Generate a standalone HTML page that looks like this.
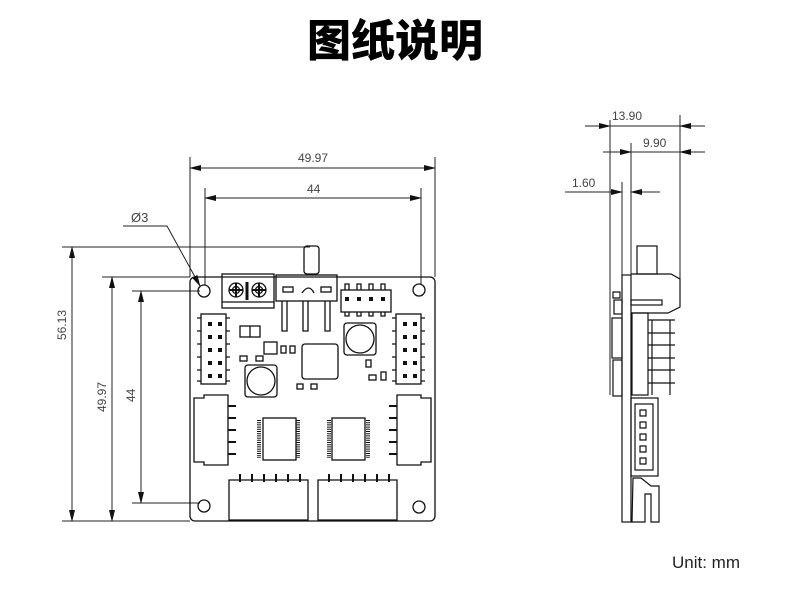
<!DOCTYPE html>
<html><head><meta charset="utf-8"><style>
body{margin:0;background:#fff;width:790px;height:603px;overflow:hidden}
svg{display:block}
text{font-family:"Liberation Sans",sans-serif;fill:#444}
</style></head><body>
<svg width="790" height="603" viewBox="0 0 790 603" xmlns="http://www.w3.org/2000/svg">
<defs><marker id="a" markerWidth="12" markerHeight="6" refX="11" refY="3" orient="auto" markerUnits="userSpaceOnUse"><path d="M0,0 L12,3 L0,6z" fill="#111"/></marker></defs>
<text x="395" y="56" text-anchor="middle" style="font-family:'Liberation Sans','Noto Sans CJK SC',sans-serif;font-weight:900;font-size:44px;fill:#000">图纸说明</text>
<text x="672" y="568" style="font-size:17px;fill:#222">Unit:  mm</text>

<g stroke="#222" stroke-width="1" fill="none">
<line x1="190" y1="157" x2="190" y2="277"/><line x1="435" y1="157" x2="435" y2="277"/>
<line x1="205" y1="188" x2="205" y2="285"/><line x1="421" y1="188" x2="421" y2="285"/>
<line x1="312" y1="168" x2="190" y2="168" marker-end="url(#a)"/><line x1="312" y1="168" x2="435" y2="168" marker-end="url(#a)"/>
<line x1="312" y1="198" x2="205" y2="198" marker-end="url(#a)"/><line x1="312" y1="198" x2="421" y2="198" marker-end="url(#a)"/>
<line x1="62" y1="247" x2="310" y2="247"/><line x1="102" y1="277" x2="190" y2="277"/><line x1="132" y1="291" x2="200" y2="291"/>
<line x1="62" y1="521" x2="190" y2="521"/><line x1="132" y1="503" x2="200" y2="503"/>
<line x1="72" y1="385" x2="72" y2="247" marker-end="url(#a)"/><line x1="72" y1="385" x2="72" y2="521" marker-end="url(#a)"/>
<line x1="112" y1="400" x2="112" y2="277" marker-end="url(#a)"/><line x1="112" y1="400" x2="112" y2="521" marker-end="url(#a)"/>
<line x1="141" y1="400" x2="141" y2="291" marker-end="url(#a)"/><line x1="141" y1="400" x2="141" y2="503" marker-end="url(#a)"/>
<polyline points="123,226 167,226 200,286" marker-end="url(#a)"/>
</g>
<text x="298" y="162" style="font-size:12px">49.97</text>
<text x="307" y="193" style="font-size:12px">44</text>
<text x="131" y="222" style="font-size:13px">Ø3</text>
<text transform="translate(66,340) rotate(-90)" style="font-size:12px">56.13</text>
<text transform="translate(106,412) rotate(-90)" style="font-size:12px">49.97</text>
<text transform="translate(135,402) rotate(-90)" style="font-size:12px">44</text>

<g stroke="#111" stroke-width="1.3" fill="none">
<rect x="190" y="277" width="245" height="244" rx="5"/>
<circle cx="204" cy="291" r="6"/><circle cx="419" cy="290" r="6"/><circle cx="204" cy="506" r="6"/><circle cx="419" cy="507" r="6"/>
<rect x="222" y="274" width="52" height="34"/><line x1="222" y1="302" x2="274" y2="302"/>
<circle cx="236" cy="290" r="7"/><circle cx="259" cy="290" r="7"/>
<circle cx="236" cy="290" r="3.5"/><circle cx="259" cy="290" r="3.5"/>
<path d="M229,290h14M236,283v14M252,290h14M259,283v14" stroke-width="2"/>
<line x1="247" y1="282" x2="247" y2="300" stroke-width="3"/>
<rect x="304" y="246" width="15" height="28" rx="3"/>
<rect x="276" y="275" width="61" height="26"/>
<rect x="283" y="287" width="10" height="5"/><rect x="321" y="287" width="10" height="5"/>
<path d="M302,293 q7,-10 12,0"/>
<path d="M282,301 v30 h5 v-30 M303,301 v30 h5 v-30 M325,301 v30 h5 v-30"/>
<rect x="341" y="290" width="50" height="22"/>
<path d="M345,290v-6h4v6M357,290v-6h4v6M369,290v-6h4v6M381,290v-6h4v6M345,312v4h4v-4M357,312v4h4v-4M369,312v4h4v-4M381,312v4h4v-4"/>
<rect x="201" y="314" width="25" height="70"/><rect x="396" y="314" width="25" height="70"/>
<path d="M201,318h-4M201,331h-4M201,344h-4M201,357h-4M201,370h-4M201,381h-4M226,318h4M226,331h4M226,344h4M226,357h4M226,370h4M226,381h4"/>
<path d="M396,318h-4M396,331h-4M396,344h-4M396,357h-4M396,370h-4M396,381h-4M421,318h4M421,331h4M421,344h4M421,357h4M421,370h4M421,381h4"/>
<rect x="240" y="326" width="20" height="11"/><line x1="250" y1="326" x2="250" y2="337"/>
<circle cx="360" cy="339" r="14"/><rect x="344" y="323" width="32" height="32" rx="3"/>
<circle cx="261" cy="381" r="14"/><rect x="245" y="365" width="32" height="32" rx="3"/>
<rect x="302" y="344" width="36" height="35" rx="3"/>
<rect x="264" y="342" width="13" height="12"/>
<rect x="281" y="346" width="5" height="7"/><rect x="290" y="346" width="5" height="7"/>
<rect x="240" y="356" width="7" height="5"/><rect x="256" y="356" width="7" height="5"/>
<rect x="297" y="384" width="6" height="5"/><rect x="311" y="384" width="6" height="5"/>
<rect x="366" y="360" width="5" height="7"/><rect x="369" y="375" width="7" height="5"/><rect x="381" y="372" width="5" height="8"/>
<rect x="263" y="418" width="33" height="42"/><rect x="332" y="418" width="33" height="42"/>
<path d="M194,398 h10 v-3 h24 v70 h-24 v-3 h-10 z"/>
<path d="M431,398 h-10 v-3 h-24 v70 h24 v-3 h10 z"/>
<path d="M229,480 h79 v40 h-79 z"/><path d="M318,480 h79 v40 h-79 z"/>
</g>
<g fill="#111">
<rect x="208" y="322" width="4" height="4"/><rect x="218" y="322" width="4" height="4"/><rect x="208" y="335" width="4" height="4"/><rect x="218" y="335" width="4" height="4"/><rect x="208" y="348" width="4" height="4"/><rect x="218" y="348" width="4" height="4"/><rect x="208" y="361" width="4" height="4"/><rect x="218" y="361" width="4" height="4"/><rect x="208" y="374" width="4" height="4"/><rect x="218" y="374" width="4" height="4"/>
<rect x="403" y="322" width="4" height="4"/><rect x="413" y="322" width="4" height="4"/><rect x="403" y="335" width="4" height="4"/><rect x="413" y="335" width="4" height="4"/><rect x="403" y="348" width="4" height="4"/><rect x="413" y="348" width="4" height="4"/><rect x="403" y="361" width="4" height="4"/><rect x="413" y="361" width="4" height="4"/><rect x="403" y="374" width="4" height="4"/><rect x="413" y="374" width="4" height="4"/>
<rect x="345" y="297" width="4" height="4"/><rect x="357" y="297" width="4" height="4"/><rect x="369" y="297" width="4" height="4"/><rect x="381" y="297" width="4" height="4"/>
</g>
<g stroke="#111" stroke-width="2">
<path d="M259,420v38M298,420v38M329,420v38M368,420v38" stroke-dasharray="1,1.2" stroke-width="4"/>
<path d="M228,406h8M228,418h8M228,430h8M228,442h8M228,454h8"/>
<path d="M389,406h8M389,418h8M389,430h8M389,442h8M389,454h8"/>
<path d="M240,482v-8M252,482v-8M264,482v-8M276,482v-8M288,482v-8M300,482v-8M329,482v-8M341,482v-8M353,482v-8M365,482v-8M377,482v-8M389,482v-8"/>
</g>

<g stroke="#222" stroke-width="1" fill="none">
<line x1="610" y1="120" x2="610" y2="395"/><line x1="622" y1="182" x2="622" y2="275"/><line x1="631" y1="143" x2="631" y2="275"/><line x1="680" y1="115" x2="680" y2="280"/>
<line x1="585" y1="126" x2="610" y2="126" marker-end="url(#a)"/><line x1="705" y1="126" x2="680" y2="126" marker-end="url(#a)"/><line x1="610" y1="126" x2="680" y2="126"/>
<line x1="603" y1="152" x2="631" y2="152" marker-end="url(#a)"/><line x1="705" y1="152" x2="680" y2="152" marker-end="url(#a)"/><line x1="631" y1="152" x2="680" y2="152"/>
<line x1="565" y1="192" x2="622" y2="192" marker-end="url(#a)"/><line x1="660" y1="192" x2="631" y2="192" marker-end="url(#a)"/>
</g>
<text x="612" y="120" style="font-size:12px">13.90</text>
<text x="643" y="147" style="font-size:12px">9.90</text>
<text x="572" y="187" style="font-size:12px">1.60</text>
<g stroke="#111" stroke-width="1.2" fill="none">
<rect x="622" y="275" width="9" height="247"/>
<rect x="637" y="246" width="20" height="28"/>
<path d="M631,274 h40 l9,5 v28 l-12,6 h-37"/>
<rect x="631" y="300" width="31" height="5"/>
<rect x="632" y="313" width="16" height="82"/>
<path d="M648,320h27M648,333h27M648,345h27M648,358h27M648,370h27M648,383h27M652,320v75M670,320v75"/>
<rect x="614" y="300" width="8" height="14"/><rect x="612" y="318" width="10" height="40"/><rect x="613" y="360" width="9" height="36"/>
<path d="M613,292 h7 v6 h-7 z"/>
<rect x="631" y="398" width="27" height="78"/><rect x="635" y="404" width="18" height="66"/>
<path d="M640,410h6v6h-6zM640,422h6v6h-6zM640,434h6v6h-6zM640,446h6v6h-6zM640,458h6v6h-6z"/>
<path d="M633,478 h8 l10,8 h8 v36 h-8 v-28 h-6 v28 h-13 z"/>
</g>
</svg>
</body></html>
